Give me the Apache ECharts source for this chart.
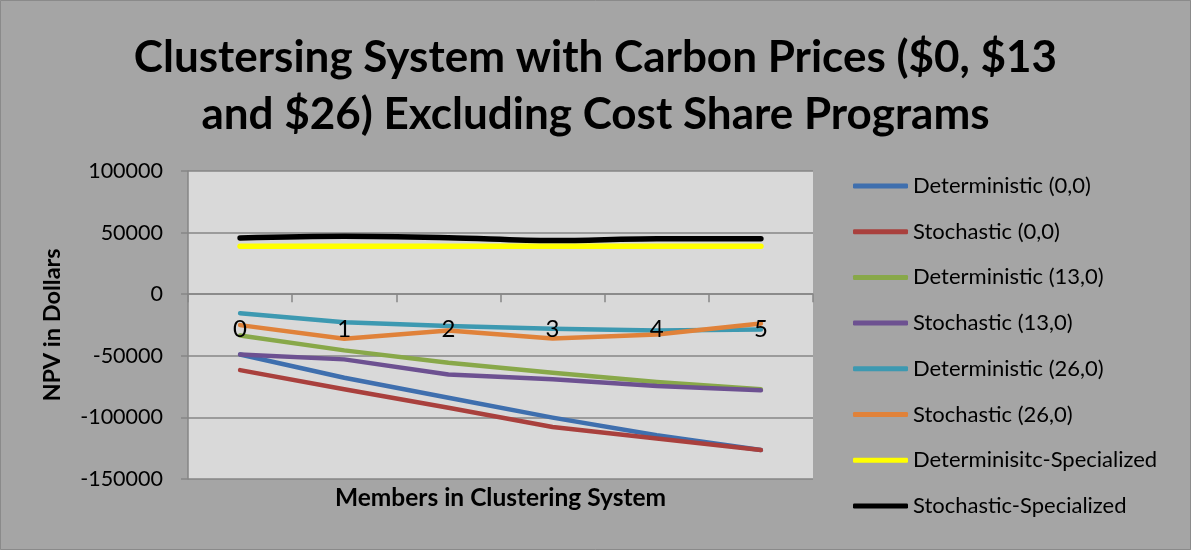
<!DOCTYPE html>
<html>
<head>
<meta charset="utf-8">
<script src="https://cdn.jsdelivr.net/npm/echarts@6/dist/echarts.min.js"></script>
<style>
  html, body { margin: 0; padding: 0; background: #a5a5a5; }
  #chart { width: 1191px; height: 550px; }
</style>
</head>
<body>
<div id="chart"></div>
<script>
// Members in the clustering system (category axis)
const members = ['0', '1', '2', '3', '4', '5'];

// NPV in dollars for each scenario
const detZero   = [-48900, -67800, -84000, -100200, -114500, -126400];
const stoZero   = [-61600, -77200, -92100, -107800, -117200, -126400];
const det13     = [-33500, -45600, -55600, -63700, -71300, -77200];
const sto13     = [-48900, -52900, -65100, -69100, -74500, -78000];
const det26     = [-15400, -22700, -25900, -28000, -29400, -28600];
const sto26     = [-25100, -36200, -29400, -35900, -32700, -23700];
const detSpec   = [39000, 39000, 39000, 39000, 39000, 39000];
const stoSpec   = [45700, 47000, 45800, 43500, 45000, 45000];

const seriesNames = [
  'Deterministic (0,0)', 'Stochastic (0,0)',
  'Deterministic (13,0)', 'Stochastic (13,0)',
  'Deterministic (26,0)', 'Stochastic (26,0)',
  'Determinisitc-Specialized', 'Stochastic-Specialized'
];
const seriesData = [detZero, stoZero, det13, sto13, det26, sto26, detSpec, stoSpec];
const seriesColors = ['#3f6fae', '#a9403d', '#88a849', '#6d5191', '#3d99b1', '#e0823a', '#ffff00', '#000000'];

const FONT = 'Lato, "Open Sans", sans-serif';
const chart = echarts.init(document.getElementById('chart'), null, { renderer: 'canvas' });

chart.setOption({
  backgroundColor: '#a5a5a5',
  animation: false,
  textStyle: { fontFamily: FONT, color: '#000' },
  title: {
    text: 'Clustersing System with Carbon Prices ($0, $13\nand $26) Excluding Cost Share Programs',
    left: 'center',
    top: 24,
    textStyle: { fontFamily: FONT, fontSize: 44, fontWeight: 'bold', color: '#000', lineHeight: 57, align: 'center' }
  },
  legend: {
    orient: 'vertical',
    left: 853,
    top: 174,
    padding: 0,
    itemWidth: 55,
    itemHeight: 5,
    itemGap: 21.7,
    icon: 'roundRect',
    textStyle: { fontFamily: FONT, fontSize: 22, color: '#000', lineHeight: 24 },
    data: seriesNames
  },
  grid: {
    left: 188, right: 378, top: 171, bottom: 71,
    outerBoundsMode: 'none',
    containLabel: false,
    show: true, backgroundColor: '#d9d9d9', borderWidth: 0
  },
  xAxis: {
    type: 'category',
    data: members,
    boundaryGap: true,
    z: 5,
    name: 'Members in Clustering System',
    nameLocation: 'middle',
    nameGap: 7,
    nameTextStyle: { fontFamily: FONT, fontSize: 24.5, fontWeight: 'bold', color: '#000', verticalAlign: 'top' },
    axisLine: { onZero: true, lineStyle: { color: '#868686', width: 1.5 } },
    axisTick: { show: true, inside: false, length: 8, lineStyle: { color: '#868686', width: 1.5 } },
    axisLabel: { fontSize: 24, color: '#000', margin: -162, interval: 0 },
    splitLine: { show: false }
  },
  yAxis: {
    type: 'value',
    min: -150000, max: 100000, interval: 50000,
    name: 'NPV in Dollars',
    nameLocation: 'middle',
    nameGap: 124,
    nameRotate: 90,
    nameTextStyle: { fontFamily: FONT, fontSize: 23.5, fontWeight: 'bold', color: '#000' },
    axisLine: { show: true, lineStyle: { color: '#868686', width: 1.5 } },
    axisTick: { show: true, length: 7, lineStyle: { color: '#868686', width: 1.5 } },
    axisLabel: { fontSize: 21.5, color: '#000', margin: 25, formatter: v => String(v) },
    splitLine: { show: true, lineStyle: { color: '#868686', width: 1.5 } }
  },
  series: seriesNames.map((name, i) => ({
    name,
    type: 'line',
    data: seriesData[i],
    showSymbol: false,
    symbol: 'none',
    smooth: i === 7 ? 0.35 : false,
    color: seriesColors[i],
    lineStyle: { width: i >= 6 ? 5.5 : 4.5, color: seriesColors[i], cap: 'round', join: 'round' },
    emphasis: { disabled: true }
  })),
  graphic: [{
    type: 'rect',
    silent: true,
    shape: { x: 0.5, y: 0.5, width: 1190, height: 549 },
    style: { fill: 'none', stroke: '#8a8a8a', lineWidth: 1 }
  }]
});
</script>
</body>
</html>
